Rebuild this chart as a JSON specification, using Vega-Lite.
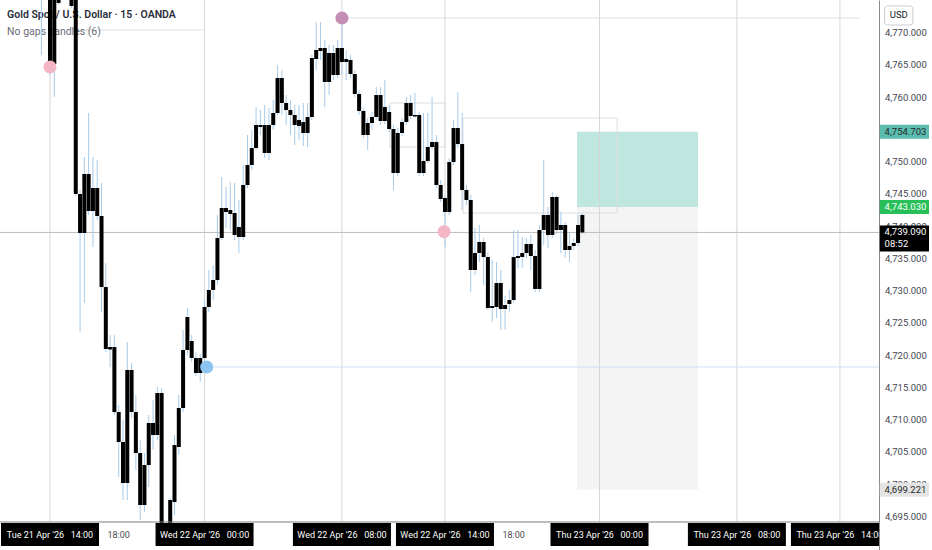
{
  "$schema": "https://vega.github.io/schema/vega-lite/v6.json",
  "width": 879,
  "height": 550,
  "autosize": {"type": "none"},
  "padding": {"left": 0, "top": 0, "right": 53, "bottom": 0},
  "background": "white",
  "config": {"view": {"stroke": null}, "font": "Roboto"},
  "datasets": {
    "candles": [
      {"n":-2,"open":4779.76,"high":4780.53,"low":4766.59,"close":4776.66},
      {"n":-1,"open":4776.66,"high":4779.76,"low":4775.42,"close":4778.98},
      {"n":0,"open":4775.88,"high":4776.66,"low":4763.49,"close":4765.19},
      {"n":1,"open":4765.19,"high":4776.35,"low":4760.08,"close":4775.57},
      {"n":2,"open":4775.57,"high":4776.35,"low":4774.34,"close":4774.65},
      {"n":3,"open":4775.88,"high":4778.98,"low":4775.26,"close":4778.21},
      {"n":4,"open":4778.98,"high":4779.76,"low":4775.26,"close":4775.88},
      {"n":5,"open":4775.88,"high":4776.66,"low":4773.87,"close":4774.18},
      {"n":6,"open":4775.42,"high":4776.35,"low":4744.74,"close":4745.05},
      {"n":7,"open":4745.05,"high":4745.67,"low":4723.66,"close":4739.00},
      {"n":8,"open":4739.00,"high":4750.78,"low":4728.15,"close":4748.15},
      {"n":9,"open":4748.15,"high":4757.60,"low":4741.79,"close":4742.41},
      {"n":10,"open":4742.41,"high":4750.78,"low":4736.83,"close":4745.98},
      {"n":11,"open":4745.98,"high":4750.31,"low":4741.02,"close":4741.64},
      {"n":12,"open":4741.64,"high":4746.75,"low":4726.76,"close":4730.63},
      {"n":13,"open":4730.63,"high":4734.35,"low":4720.56,"close":4721.03},
      {"n":14,"open":4720.95,"high":4723.19,"low":4718.24,"close":4721.34},
      {"n":15,"open":4721.34,"high":4723.19,"low":4710.80,"close":4711.26},
      {"n":16,"open":4711.26,"high":4712.35,"low":4701.19,"close":4706.62},
      {"n":17,"open":4706.62,"high":4710.02,"low":4697.63,"close":4700.26},
      {"n":18,"open":4700.26,"high":4722.11,"low":4697.63,"close":4717.77},
      {"n":19,"open":4717.77,"high":4718.86,"low":4710.33,"close":4711.26},
      {"n":20,"open":4711.26,"high":4713.90,"low":4702.28,"close":4704.91},
      {"n":21,"open":4704.91,"high":4706.92,"low":4694.53,"close":4696.85},
      {"n":22,"open":4696.85,"high":4704.91,"low":4695.77,"close":4703.05},
      {"n":23,"open":4703.05,"high":4710.80,"low":4699.64,"close":4709.56},
      {"n":24,"open":4709.56,"high":4713.12,"low":4705.38,"close":4707.70},
      {"n":25,"open":4707.70,"high":4715.14,"low":4706.92,"close":4714.21},
      {"n":26,"open":4714.21,"high":4714.98,"low":4691.43,"close":4692.98},
      {"n":27,"open":4693.75,"high":4694.00,"low":4691.20,"close":4691.43},
      {"n":28,"open":4692.20,"high":4697.90,"low":4691.43,"close":4697.63},
      {"n":29,"open":4697.32,"high":4707.70,"low":4695.30,"close":4706.15},
      {"n":30,"open":4705.84,"high":4713.90,"low":4704.60,"close":4711.88},
      {"n":31,"open":4711.88,"high":4723.97,"low":4711.26,"close":4720.87},
      {"n":32,"open":4720.87,"high":4727.38,"low":4720.10,"close":4725.99},
      {"n":33,"open":4722.27,"high":4723.19,"low":4719.01,"close":4719.63},
      {"n":34,"open":4719.63,"high":4720.56,"low":4716.84,"close":4717.31},
      {"n":35,"open":4717.31,"high":4720.25,"low":4715.91,"close":4719.63},
      {"n":36,"open":4719.63,"high":4728.62,"low":4718.24,"close":4727.54},
      {"n":37,"open":4727.54,"high":4733.27,"low":4726.76,"close":4730.17},
      {"n":38,"open":4730.17,"high":4734.04,"low":4728.62,"close":4731.72},
      {"n":39,"open":4731.72,"high":4741.79,"low":4730.95,"close":4738.23},
      {"n":40,"open":4738.23,"high":4747.68,"low":4737.92,"close":4742.88},
      {"n":41,"open":4742.88,"high":4746.13,"low":4739.78,"close":4742.26},
      {"n":42,"open":4742.57,"high":4746.91,"low":4739.47,"close":4741.95},
      {"n":43,"open":4742.10,"high":4746.75,"low":4737.92,"close":4738.69},
      {"n":44,"open":4739.93,"high":4744.12,"low":4735.90,"close":4738.38},
      {"n":45,"open":4738.38,"high":4749.54,"low":4737.92,"close":4746.44},
      {"n":46,"open":4746.44,"high":4754.19,"low":4745.98,"close":4749.54},
      {"n":47,"open":4749.54,"high":4754.96,"low":4748.77,"close":4752.17},
      {"n":48,"open":4752.17,"high":4758.53,"low":4751.86,"close":4755.74},
      {"n":49,"open":4755.74,"high":4758.06,"low":4754.19,"close":4755.43},
      {"n":50,"open":4755.74,"high":4758.84,"low":4750.62,"close":4751.40},
      {"n":51,"open":4751.40,"high":4758.37,"low":4750.31,"close":4755.74},
      {"n":52,"open":4755.74,"high":4759.61,"low":4754.96,"close":4757.60},
      {"n":53,"open":4757.60,"high":4765.04,"low":4757.29,"close":4763.02},
      {"n":54,"open":4763.02,"high":4764.26,"low":4757.29,"close":4759.15},
      {"n":55,"open":4759.15,"high":4760.39,"low":4755.74,"close":4758.06},
      {"n":56,"open":4758.06,"high":4759.61,"low":4754.19,"close":4757.29},
      {"n":57,"open":4757.29,"high":4758.84,"low":4752.64,"close":4755.74},
      {"n":58,"open":4756.51,"high":4758.84,"low":4753.41,"close":4755.58},
      {"n":59,"open":4756.20,"high":4759.15,"low":4752.48,"close":4754.50},
      {"n":60,"open":4754.50,"high":4759.15,"low":4752.33,"close":4756.98},
      {"n":61,"open":4756.98,"high":4766.59,"low":4756.51,"close":4766.12},
      {"n":62,"open":4765.97,"high":4771.70,"low":4764.26,"close":4767.36},
      {"n":63,"open":4767.21,"high":4771.70,"low":4765.81,"close":4767.67},
      {"n":64,"open":4767.67,"high":4768.91,"low":4758.53,"close":4762.40},
      {"n":65,"open":4762.40,"high":4768.14,"low":4760.39,"close":4766.90},
      {"n":66,"open":4766.90,"high":4768.14,"low":4762.71,"close":4763.49},
      {"n":67,"open":4763.49,"high":4768.91,"low":4763.02,"close":4767.67},
      {"n":68,"open":4767.67,"high":4772.32,"low":4763.49,"close":4765.50},
      {"n":69,"open":4765.50,"high":4767.36,"low":4762.71,"close":4765.97},
      {"n":70,"open":4765.81,"high":4766.59,"low":4763.02,"close":4763.64},
      {"n":71,"open":4763.64,"high":4764.26,"low":4760.08,"close":4760.54},
      {"n":72,"open":4760.54,"high":4761.16,"low":4757.29,"close":4757.91},
      {"n":73,"open":4757.91,"high":4758.37,"low":4753.72,"close":4754.19},
      {"n":74,"open":4754.19,"high":4756.82,"low":4751.86,"close":4756.05},
      {"n":75,"open":4756.05,"high":4757.75,"low":4754.96,"close":4756.98},
      {"n":76,"open":4756.98,"high":4761.63,"low":4756.51,"close":4760.39},
      {"n":77,"open":4760.39,"high":4761.63,"low":4755.74,"close":4756.36},
      {"n":78,"open":4756.36,"high":4762.71,"low":4755.89,"close":4758.53},
      {"n":79,"open":4757.75,"high":4758.84,"low":4754.65,"close":4755.12},
      {"n":80,"open":4755.12,"high":4755.74,"low":4745.67,"close":4748.30},
      {"n":81,"open":4748.30,"high":4755.27,"low":4747.84,"close":4754.50},
      {"n":82,"open":4754.50,"high":4756.82,"low":4754.03,"close":4756.20},
      {"n":83,"open":4756.20,"high":4760.08,"low":4755.74,"close":4759.15},
      {"n":84,"open":4759.15,"high":4760.39,"low":4756.67,"close":4757.13},
      {"n":85,"open":4757.29,"high":4760.70,"low":4756.82,"close":4757.06},
      {"n":86,"open":4757.29,"high":4757.75,"low":4747.84,"close":4748.30},
      {"n":87,"open":4748.30,"high":4757.60,"low":4747.84,"close":4750.16},
      {"n":88,"open":4750.16,"high":4757.60,"low":4749.85,"close":4752.33},
      {"n":89,"open":4752.33,"high":4760.08,"low":4751.86,"close":4753.10},
      {"n":90,"open":4753.10,"high":4754.19,"low":4745.98,"close":4746.44},
      {"n":91,"open":4746.44,"high":4747.22,"low":4743.81,"close":4744.27},
      {"n":92,"open":4744.43,"high":4744.89,"low":4736.83,"close":4742.26},
      {"n":93,"open":4742.26,"high":4750.62,"low":4741.79,"close":4750.00},
      {"n":94,"open":4750.00,"high":4756.51,"low":4749.54,"close":4755.27},
      {"n":95,"open":4755.27,"high":4760.85,"low":4752.17,"close":4752.79},
      {"n":96,"open":4752.79,"high":4757.60,"low":4742.57,"close":4745.67},
      {"n":97,"open":4745.67,"high":4746.44,"low":4743.34,"close":4744.12},
      {"n":98,"open":4744.12,"high":4744.89,"low":4729.86,"close":4733.27},
      {"n":99,"open":4733.27,"high":4739.78,"low":4732.49,"close":4735.90},
      {"n":100,"open":4735.90,"high":4740.24,"low":4734.51,"close":4737.61},
      {"n":101,"open":4737.61,"high":4738.23,"low":4730.95,"close":4735.28},
      {"n":102,"open":4735.28,"high":4736.06,"low":4727.07,"close":4727.38},
      {"n":103,"open":4727.38,"high":4734.82,"low":4725.21,"close":4727.69},
      {"n":104,"open":4727.54,"high":4734.51,"low":4725.83,"close":4731.25},
      {"n":105,"open":4731.25,"high":4733.27,"low":4723.97,"close":4727.23},
      {"n":106,"open":4727.23,"high":4729.24,"low":4723.97,"close":4727.85},
      {"n":107,"open":4728.00,"high":4730.17,"low":4726.76,"close":4728.62},
      {"n":108,"open":4728.62,"high":4739.47,"low":4728.15,"close":4735.28},
      {"n":109,"open":4735.44,"high":4739.47,"low":4733.58,"close":4735.13},
      {"n":110,"open":4735.28,"high":4738.38,"low":4733.58,"close":4735.90},
      {"n":111,"open":4735.90,"high":4738.23,"low":4735.13,"close":4737.30},
      {"n":112,"open":4737.30,"high":4738.69,"low":4733.27,"close":4735.44},
      {"n":113,"open":4735.44,"high":4736.37,"low":4729.86,"close":4730.33},
      {"n":114,"open":4730.33,"high":4740.24,"low":4729.86,"close":4739.47},
      {"n":115,"open":4739.47,"high":4750.31,"low":4737.14,"close":4741.79},
      {"n":116,"open":4741.79,"high":4743.03,"low":4736.68,"close":4738.69},
      {"n":117,"open":4738.69,"high":4745.36,"low":4738.23,"close":4744.58},
      {"n":118,"open":4744.58,"high":4744.89,"low":4738.85,"close":4739.47},
      {"n":119,"open":4739.47,"high":4742.26,"low":4735.90,"close":4740.24},
      {"n":120,"open":4740.24,"high":4740.71,"low":4735.13,"close":4736.37},
      {"n":121,"open":4736.37,"high":4739.16,"low":4734.51,"close":4736.99},
      {"n":122,"open":4736.99,"high":4738.23,"low":4736.37,"close":4737.45},
      {"n":123,"open":4737.45,"high":4741.79,"low":4736.99,"close":4740.24},
      {"n":124,"open":4741.79,"high":4742.10,"low":4738.85,"close":4739.09}
    ],
    "priceTicks": [
      {"price":4695},{"price":4700},{"price":4705},{"price":4710},{"price":4715},{"price":4720},{"price":4725},{"price":4730},
      {"price":4735},{"price":4740},{"price":4745},{"price":4750},{"price":4760},{"price":4765},{"price":4770}
    ],
    "timeLabels": [
      {"n":0,"label":"Tue 21 Apr '26\u00a0\u00a0\u00a014:00","major":true},
      {"n":16,"label":"18:00","major":false},
      {"n":36,"label":"Wed 22 Apr '26\u00a0\u00a0\u00a000:00","major":true},
      {"n":68,"label":"Wed 22 Apr '26\u00a0\u00a0\u00a008:00","major":true},
      {"n":92,"label":"Wed 22 Apr '26\u00a0\u00a0\u00a014:00","major":true},
      {"n":108,"label":"18:00","major":false},
      {"n":128,"label":"Thu 23 Apr '26\u00a0\u00a0\u00a000:00","major":true},
      {"n":160,"label":"Thu 23 Apr '26\u00a0\u00a0\u00a008:00","major":true},
      {"n":184,"label":"Thu 23 Apr '26\u00a0\u00a0\u00a014:00","major":true}
    ],
    "zones": [
      {"name":"target","start":122.76,"end":150.94,"top":4754.703,"bottom":4743.03},
      {"name":"stop","start":122.76,"end":150.94,"top":4743.03,"bottom":4699.221}
    ],
    "boxes": [
      {"start":96.2,"end":132.1,"top":4756.82,"bottom":4742.10},
      {"start":79.2,"end":92,"top":4759.15,"bottom":4752.33}
    ],
    "levels": [
      {"name":"prior","price":4770.46,"start":7,"end":36},
      {"name":"swingHigh","price":4772.32,"start":68,"end":188.7},
      {"name":"swingLow","price":4718.24,"start":36.5,"end":193.1},
      {"name":"last","price":4739.09,"start":-11.647,"end":193.1}
    ],
    "markers": [
      {"kind":"sell","n":0,"price":4764.73},
      {"kind":"trough","n":36.5,"price":4718.24},
      {"kind":"peak","n":68,"price":4772.32},
      {"kind":"sell","n":91.8,"price":4739.2}
    ],
    "tags": [
      {"name":"target","price":4754.703},
      {"name":"entry","price":4743.03},
      {"name":"stop","price":4699.221}
    ],
    "last": [{"price":4739.09,"countdown":"08:52"}],
    "header": [
      {"kind":"title","text":"Gold Spot / U.S. Dollar · 15 · OANDA"},
      {"kind":"subtitle","text":"No gaps candles (6)"}
    ],
    "currency": [{"unit":"USD"}]
  },
  "layer": [
    {
      "data": {"name": "zones"},
      "mark": {"type": "rect"},
      "encoding": {
        "x": {"field": "start", "type": "quantitative", "scale": {"domain": [-11.647, 193.1], "nice": false, "zero": false, "padding": 0}, "axis": null},
        "x2": {"field": "end"},
        "y": {
          "field": "top", "type": "quantitative",
          "scale": {"domain": [4689.88, 4775.11], "nice": false, "zero": false, "padding": 0},
          "axis": {"orient": "right", "title": null, "grid": false, "ticks": false, "labels": false, "domainColor": "#8a8a8a", "domainWidth": 1}
        },
        "y2": {"field": "bottom"},
        "color": {"condition": {"test": "datum.name === 'target'", "value": "#c0e6e0"}, "value": "#f4f4f4"}
      }
    },
    {
      "data": {"name": "boxes"},
      "mark": {"type": "rect", "filled": false, "stroke": "#dedede", "strokeWidth": 1},
      "encoding": {
        "x": {"field": "start", "type": "quantitative", "scale": {"domain": [-11.647, 193.1], "nice": false, "zero": false, "padding": 0}, "axis": null},
        "x2": {"field": "end"},
        "y": {"field": "top", "type": "quantitative", "scale": {"domain": [4689.88, 4775.11], "nice": false, "zero": false, "padding": 0}},
        "y2": {"field": "bottom"}
      }
    },
    {
      "data": {"name": "timeLabels"},
      "transform": [{"filter": "datum.major"}],
      "mark": {"type": "rule", "color": "#d6d6d6", "strokeWidth": 1},
      "encoding": {
        "x": {"field": "n", "type": "quantitative", "scale": {"domain": [-11.647, 193.1], "nice": false, "zero": false, "padding": 0}, "axis": null},
        "y": {"datum": 4775.11, "type": "quantitative", "scale": {"domain": [4689.88, 4775.11], "nice": false, "zero": false, "padding": 0}},
        "y2": {"datum": 4694.22}
      }
    },
    {
      "data": {"name": "levels"},
      "mark": {"type": "rule", "strokeWidth": 1},
      "encoding": {
        "x": {"field": "start", "type": "quantitative", "scale": {"domain": [-11.647, 193.1], "nice": false, "zero": false, "padding": 0}, "axis": null},
        "x2": {"field": "end"},
        "y": {"field": "price", "type": "quantitative", "scale": {"domain": [4689.88, 4775.11], "nice": false, "zero": false, "padding": 0}},
        "color": {"condition": [{"test": "datum.name === 'last'", "value": "#bdbdbd"}, {"test": "datum.name === 'swingLow'", "value": "#cde0f1"}], "value": "#e0e0e0"}
      }
    },
    {
      "data": {"name": "header"},
      "transform": [{"filter": "datum.kind === 'title'"}],
      "mark": {"type": "text", "align": "left", "baseline": "middle", "font": "Roboto", "fontSize": 10.5, "fontWeight": 600, "color": "#2a2e39"},
      "encoding": {
        "x": {"datum": -10, "type": "quantitative", "scale": {"domain": [-11.647, 193.1], "nice": false, "zero": false, "padding": 0}, "axis": null},
        "y": {"datum": 4772.79, "type": "quantitative", "scale": {"domain": [4689.88, 4775.11], "nice": false, "zero": false, "padding": 0}},
        "text": {"field": "text"}
      }
    },
    {
      "data": {"name": "header"},
      "transform": [{"filter": "datum.kind === 'subtitle'"}],
      "mark": {"type": "text", "align": "left", "baseline": "middle", "font": "Roboto", "fontSize": 10.5, "color": "#6a6d78"},
      "encoding": {
        "x": {"datum": -10, "type": "quantitative", "scale": {"domain": [-11.647, 193.1], "nice": false, "zero": false, "padding": 0}, "axis": null},
        "y": {"datum": 4770.15, "type": "quantitative", "scale": {"domain": [4689.88, 4775.11], "nice": false, "zero": false, "padding": 0}},
        "text": {"field": "text"}
      }
    },
    {
      "data": {"name": "candles"},
      "mark": {"type": "rule", "color": "#a6cbea", "strokeWidth": 1},
      "encoding": {
        "x": {"field": "n", "type": "quantitative", "scale": {"domain": [-11.647, 193.1], "nice": false, "zero": false, "padding": 0}, "axis": null},
        "y": {"field": "low", "type": "quantitative", "scale": {"domain": [4689.88, 4775.11], "nice": false, "zero": false, "padding": 0}},
        "y2": {"field": "high"}
      }
    },
    {
      "data": {"name": "candles"},
      "mark": {"type": "bar", "size": 4, "color": "#000000"},
      "encoding": {
        "x": {"field": "n", "type": "quantitative", "scale": {"domain": [-11.647, 193.1], "nice": false, "zero": false, "padding": 0}, "axis": null},
        "y": {"field": "open", "type": "quantitative", "scale": {"domain": [4689.88, 4775.11], "nice": false, "zero": false, "padding": 0}},
        "y2": {"field": "close"}
      }
    },
    {
      "data": {"name": "markers"},
      "mark": {"type": "point", "shape": "circle", "filled": true, "size": 170, "opacity": 1},
      "encoding": {
        "x": {"field": "n", "type": "quantitative", "scale": {"domain": [-11.647, 193.1], "nice": false, "zero": false, "padding": 0}, "axis": null},
        "y": {"field": "price", "type": "quantitative", "scale": {"domain": [4689.88, 4775.11], "nice": false, "zero": false, "padding": 0}},
        "color": {"condition": [{"test": "datum.kind === 'sell'", "value": "#f2b6c4"}, {"test": "datum.kind === 'peak'", "value": "#c48db5"}], "value": "#8ec4f0"}
      }
    },
    {
      "data": {"values": [{}]},
      "mark": {"type": "rule", "color": "#7d7d7d", "strokeWidth": 1},
      "encoding": {
        "x": {"datum": -11.647, "type": "quantitative", "scale": {"domain": [-11.647, 193.1], "nice": false, "zero": false, "padding": 0}, "axis": null},
        "x2": {"datum": 193.1},
        "y": {"datum": 4694.22, "type": "quantitative", "scale": {"domain": [4689.88, 4775.11], "nice": false, "zero": false, "padding": 0}}
      }
    },
    {
      "data": {"name": "timeLabels"},
      "transform": [{"filter": "!datum.major"}],
      "mark": {"type": "text", "font": "Roboto", "fontSize": 9, "color": "#4a4a4a", "baseline": "middle", "clip": true},
      "encoding": {
        "x": {"field": "n", "type": "quantitative", "scale": {"domain": [-11.647, 193.1], "nice": false, "zero": false, "padding": 0}, "axis": null},
        "y": {"datum": 4692.2, "type": "quantitative", "scale": {"domain": [4689.88, 4775.11], "nice": false, "zero": false, "padding": 0}},
        "text": {"field": "label"}
      }
    },
    {
      "data": {"name": "timeLabels"},
      "transform": [{"filter": "datum.major"}],
      "mark": {"type": "bar", "size": 98, "color": "#000000", "clip": true},
      "encoding": {
        "x": {"field": "n", "type": "quantitative", "scale": {"domain": [-11.647, 193.1], "nice": false, "zero": false, "padding": 0}, "axis": null},
        "y": {"datum": 4694.06, "type": "quantitative", "scale": {"domain": [4689.88, 4775.11], "nice": false, "zero": false, "padding": 0}},
        "y2": {"datum": 4690.5}
      }
    },
    {
      "data": {"name": "timeLabels"},
      "transform": [{"filter": "datum.major"}],
      "mark": {"type": "text", "font": "Roboto", "fontSize": 9, "color": "#ffffff", "baseline": "middle", "clip": true},
      "encoding": {
        "x": {"field": "n", "type": "quantitative", "scale": {"domain": [-11.647, 193.1], "nice": false, "zero": false, "padding": 0}, "axis": null},
        "y": {"datum": 4692.2, "type": "quantitative", "scale": {"domain": [4689.88, 4775.11], "nice": false, "zero": false, "padding": 0}},
        "text": {"field": "label"}
      }
    },
    {
      "data": {"name": "priceTicks"},
      "mark": {"type": "text", "align": "left", "baseline": "middle", "font": "Roboto", "fontSize": 9.5, "color": "#434651"},
      "encoding": {
        "x": {"datum": 194.5, "type": "quantitative", "scale": {"domain": [-11.647, 193.1], "nice": false, "zero": false, "padding": 0}, "axis": null},
        "y": {"field": "price", "type": "quantitative", "scale": {"domain": [4689.88, 4775.11], "nice": false, "zero": false, "padding": 0}},
        "text": {"field": "price", "type": "quantitative", "format": ",.3f"}
      }
    },
    {
      "data": {"name": "tags"},
      "mark": {"type": "bar", "orient": "horizontal", "size": 14},
      "encoding": {
        "x": {"datum": 193.3, "type": "quantitative", "scale": {"domain": [-11.647, 193.1], "nice": false, "zero": false, "padding": 0}, "axis": null},
        "x2": {"datum": 204.75},
        "y": {"field": "price", "type": "quantitative", "scale": {"domain": [4689.88, 4775.11], "nice": false, "zero": false, "padding": 0}},
        "color": {"condition": [{"test": "datum.name === 'target'", "value": "#5dbcb0"}, {"test": "datum.name === 'entry'", "value": "#27bf57"}], "value": "#e4e4e4"}
      }
    },
    {
      "data": {"name": "tags"},
      "mark": {"type": "text", "align": "left", "baseline": "middle", "font": "Roboto", "fontSize": 9.5},
      "encoding": {
        "x": {"datum": 194.4, "type": "quantitative", "scale": {"domain": [-11.647, 193.1], "nice": false, "zero": false, "padding": 0}, "axis": null},
        "y": {"field": "price", "type": "quantitative", "scale": {"domain": [4689.88, 4775.11], "nice": false, "zero": false, "padding": 0}},
        "text": {"field": "price", "type": "quantitative", "format": ",.3f"},
        "color": {"condition": {"test": "datum.name === 'entry'", "value": "#ffffff"}, "value": "#1f2a2a"}
      }
    },
    {
      "data": {"name": "last"},
      "mark": {"type": "bar", "orient": "horizontal", "size": 26, "color": "#000000", "yOffset": 6},
      "encoding": {
        "x": {"datum": 193.3, "type": "quantitative", "scale": {"domain": [-11.647, 193.1], "nice": false, "zero": false, "padding": 0}, "axis": null},
        "x2": {"datum": 204.75},
        "y": {"field": "price", "type": "quantitative", "scale": {"domain": [4689.88, 4775.11], "nice": false, "zero": false, "padding": 0}}
      }
    },
    {
      "data": {"name": "last"},
      "mark": {"type": "text", "align": "left", "baseline": "middle", "font": "Roboto", "fontSize": 9.5, "color": "#ffffff"},
      "encoding": {
        "x": {"datum": 194.4, "type": "quantitative", "scale": {"domain": [-11.647, 193.1], "nice": false, "zero": false, "padding": 0}, "axis": null},
        "y": {"field": "price", "type": "quantitative", "scale": {"domain": [4689.88, 4775.11], "nice": false, "zero": false, "padding": 0}},
        "text": {"field": "price", "type": "quantitative", "format": ",.3f"}
      }
    },
    {
      "data": {"name": "last"},
      "mark": {"type": "text", "align": "left", "baseline": "middle", "font": "Roboto", "fontSize": 9.5, "color": "#ffffff", "dy": 12},
      "encoding": {
        "x": {"datum": 194.4, "type": "quantitative", "scale": {"domain": [-11.647, 193.1], "nice": false, "zero": false, "padding": 0}, "axis": null},
        "y": {"field": "price", "type": "quantitative", "scale": {"domain": [4689.88, 4775.11], "nice": false, "zero": false, "padding": 0}},
        "text": {"field": "countdown"}
      }
    },
    {
      "data": {"name": "currency"},
      "mark": {"type": "rect", "fill": "#ffffff", "stroke": "#c9cbd1", "strokeWidth": 1, "cornerRadius": 3},
      "encoding": {
        "x": {"datum": 194.4, "type": "quantitative", "scale": {"domain": [-11.647, 193.1], "nice": false, "zero": false, "padding": 0}, "axis": null},
        "x2": {"datum": 201.0},
        "y": {"datum": 4774.18, "type": "quantitative", "scale": {"domain": [4689.88, 4775.11], "nice": false, "zero": false, "padding": 0}},
        "y2": {"datum": 4771.24}
      }
    },
    {
      "data": {"name": "currency"},
      "mark": {"type": "text", "align": "center", "baseline": "middle", "font": "Roboto", "fontSize": 9.5, "color": "#131722"},
      "encoding": {
        "x": {"datum": 197.7, "type": "quantitative", "scale": {"domain": [-11.647, 193.1], "nice": false, "zero": false, "padding": 0}, "axis": null},
        "y": {"datum": 4772.71, "type": "quantitative", "scale": {"domain": [4689.88, 4775.11], "nice": false, "zero": false, "padding": 0}},
        "text": {"field": "unit"}
      }
    }
  ]
}
